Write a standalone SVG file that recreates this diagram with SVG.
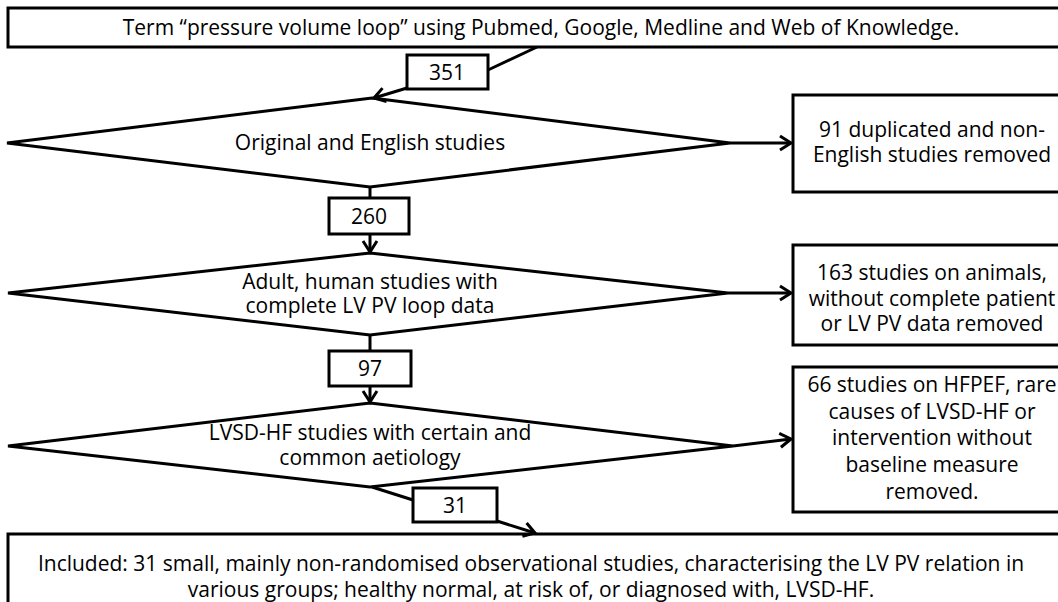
<svg xmlns="http://www.w3.org/2000/svg" width="1058" height="602" viewBox="0 0 1058 602">
  <defs>
    <marker id="arr" markerUnits="userSpaceOnUse" viewBox="-2 -2 16 18" refX="11" refY="7" markerWidth="16" markerHeight="18" orient="auto">
      <path d="M0,0 L11,7 L0,14" fill="none" stroke="#000" stroke-width="3"/>
    </marker>
  </defs>
  <style>
    .box { fill: #fff; stroke: #000; stroke-width: 3; }
    .dia { fill: #fff; stroke: #000; stroke-width: 3; stroke-linejoin: miter; }
    .con { fill: none; stroke: #000; stroke-width: 3; }
    text { font-family: "Open Sans", "Liberation Sans", sans-serif; font-size: 21px; fill: #000; text-anchor: middle; }
  </style>
  <rect width="1058" height="602" fill="#fff"/>

  <g id="search">
    <rect class="box" x="8" y="8" width="1070" height="39"/>
    <text x="541" y="35">Term “pressure volume loop” using Pubmed, Google, Medline and Web of Knowledge.</text>
  </g>

  <g id="n351">
    <rect class="box" x="407" y="55" width="81" height="34"/>
    <text x="447" y="80">351</text>
  </g>

  <g id="d1">
    <polygon class="dia" points="372,98 730,143 370,187 7,143"/>
    <text x="370" y="150">Original and English studies</text>
  </g>

  <g id="r1">
    <rect class="box" x="793" y="95" width="280" height="97"/>
    <text x="932" y="137">91 duplicated and non-<tspan x="932" dy="25">English studies removed</tspan></text>
  </g>

  <g id="n260">
    <rect class="box" x="329" y="198" width="80" height="36"/>
    <text x="369" y="224">260</text>
  </g>

  <g id="d2">
    <polygon class="dia" points="370,253 728,293 370,335 8,293"/>
    <text x="370" y="289">Adult, human studies with<tspan x="370" dy="24">complete LV PV loop data</tspan></text>
  </g>

  <g id="r2">
    <rect class="box" x="793" y="245" width="280" height="100"/>
    <text x="932" y="280">163 studies on animals,<tspan x="932" dy="25.5">without complete patient</tspan><tspan x="932" dy="25.5">or LV PV data removed</tspan></text>
  </g>

  <g id="n97">
    <rect class="box" x="329" y="351" width="82" height="35"/>
    <text x="370" y="376">97</text>
  </g>

  <g id="d3">
    <polygon class="dia" points="370,403 733,446 370,487 8,446"/>
    <text x="370" y="440">LVSD-HF studies with certain and<tspan x="370" dy="25">common aetiology</tspan></text>
  </g>

  <g id="r3">
    <rect class="box" x="793" y="367" width="280" height="145"/>
    <text x="932" y="392">66 studies on HFPEF, rare<tspan x="932" dy="26.7">causes of LVSD-HF or</tspan><tspan x="932" dy="26.7">intervention without</tspan><tspan x="932" dy="26.7">baseline measure</tspan><tspan x="932" dy="26.7">removed.</tspan></text>
  </g>

  <g id="n31">
    <rect class="box" x="413" y="488" width="84" height="34"/>
    <text x="455" y="513">31</text>
  </g>

  <g id="included">
    <rect class="box" x="8" y="534" width="1070" height="90"/>
    <text x="531" y="571">Included: 31 small, mainly non-randomised observational studies, characterising the LV PV relation in<tspan x="531" dy="26">various groups; healthy normal, at risk of, or diagnosed with, LVSD-HF.</tspan></text>
  </g>

  <g id="connectors">
    <polyline class="con" points="537,47 488,70"/>
    <polyline class="con" points="407,88 374,98" marker-end="url(#arr)"/>
    <line class="con" x1="730" y1="143" x2="791" y2="143" marker-end="url(#arr)"/>
    <line class="con" x1="370" y1="187" x2="370" y2="198"/>
    <line class="con" x1="370" y1="234" x2="370" y2="252" marker-end="url(#arr)"/>
    <line class="con" x1="728" y1="293" x2="791" y2="293" marker-end="url(#arr)"/>
    <line class="con" x1="370" y1="335" x2="370" y2="351"/>
    <line class="con" x1="370" y1="386" x2="370" y2="402" marker-end="url(#arr)"/>
    <line class="con" x1="733" y1="446" x2="791" y2="439" marker-end="url(#arr)"/>
    <line class="con" x1="372" y1="487" x2="413" y2="500"/>
    <line class="con" x1="497" y1="521" x2="535" y2="533" marker-end="url(#arr)"/>
  </g>
</svg>
